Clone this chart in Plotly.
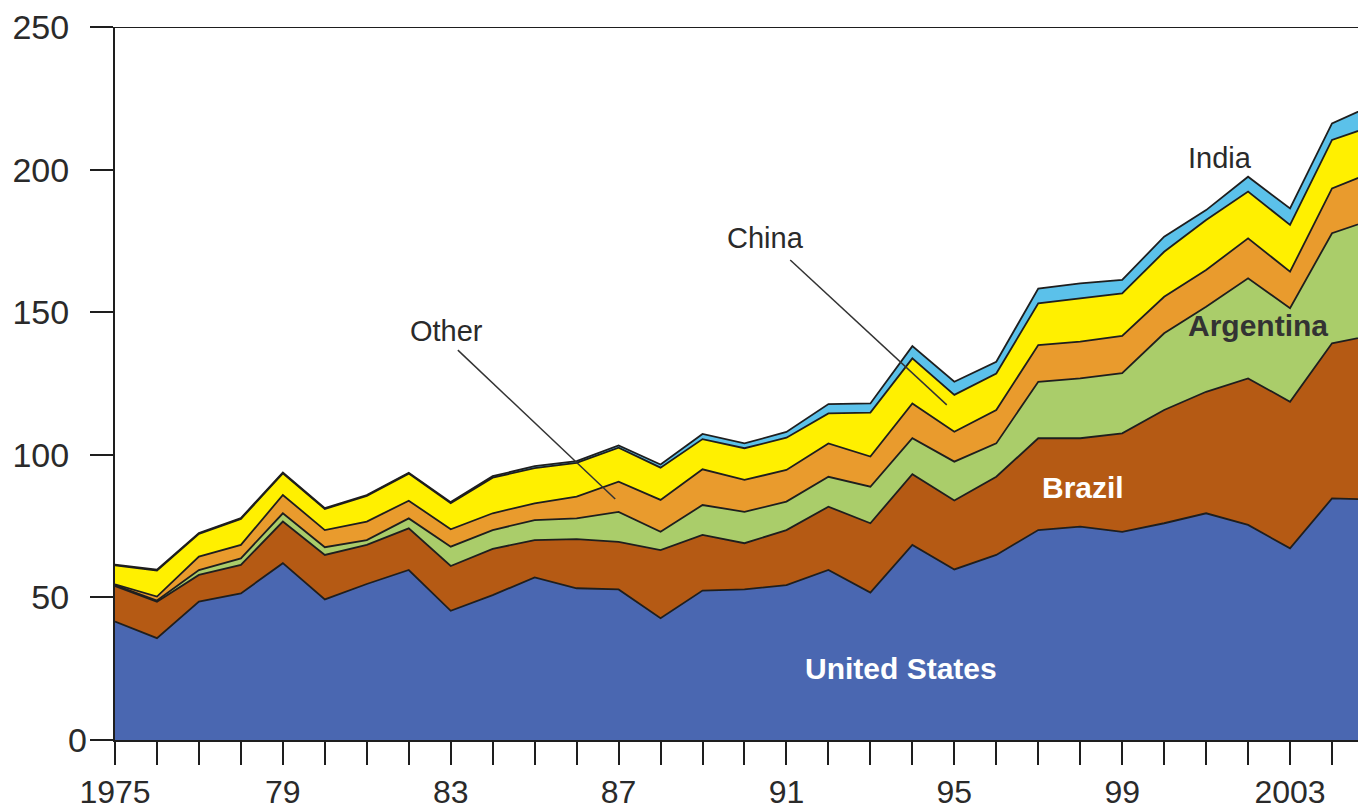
import plotly.graph_objects as go

years = list(range(1975, 2006))

united_states = [41.5, 35.7, 48.5, 51.4, 62.0, 49.3, 54.7, 59.6, 45.3, 50.8,
                 57.0, 53.2, 52.8, 42.7, 52.4, 52.8, 54.3, 59.6, 51.7, 68.4,
                 59.8, 64.9, 73.6, 74.8, 73.0, 76.0, 79.5, 75.4, 67.2, 84.7, 84.3]
brazil = [12.5, 12.8, 9.4, 10.0, 14.6, 15.6, 13.7, 14.6, 15.7, 16.2,
          13.1, 17.2, 16.7, 23.9, 19.5, 16.2, 19.3, 22.2, 24.3, 24.8,
          24.2, 27.4, 32.2, 31.0, 34.5, 39.7, 42.6, 51.4, 51.4, 54.4, 57.7]
argentina = [0.3, 0.4, 1.7, 2.3, 2.9, 2.7, 1.7, 3.5, 6.8, 6.6,
             7.0, 7.3, 10.5, 6.4, 10.5, 11.0, 10.0, 10.5, 12.8, 12.6,
             13.6, 11.7, 19.8, 21.0, 21.1, 26.9, 29.8, 35.1, 32.8, 38.6, 40.7]
other = [0.3, 1.4, 4.7, 4.7, 6.4, 6.0, 6.5, 6.2, 6.1, 5.9,
         5.9, 7.6, 10.6, 11.2, 12.5, 11.2, 11.1, 11.7, 10.6, 12.2,
         10.5, 11.7, 12.9, 12.9, 13.1, 12.8, 12.9, 14.0, 12.8, 15.7, 16.6]
china = [6.6, 9.1, 8.0, 9.1, 7.6, 7.4, 9.0, 9.5, 9.1, 12.5,
         12.3, 11.9, 11.9, 11.3, 10.6, 11.1, 11.3, 10.5, 15.4, 15.8,
         12.9, 12.8, 14.6, 15.2, 14.9, 15.8, 17.5, 16.4, 16.4, 17.0, 16.2]
india = [0.3, 0.3, 0.3, 0.3, 0.3, 0.3, 0.3, 0.3, 0.4, 0.5,
         0.7, 0.6, 0.8, 1.1, 1.8, 1.7, 2.0, 3.3, 3.2, 4.3,
         4.6, 4.1, 5.2, 5.2, 4.7, 5.3, 3.5, 5.2, 5.8, 5.8, 7.3]

series = [
    ("United States", united_states, "#4a67b1"),
    ("Brazil", brazil, "#b55a14"),
    ("Argentina", argentina, "#aacd6a"),
    ("Other", other, "#e99b2d"),
    ("China", china, "#fff000"),
    ("India", india, "#5bc1ea"),
]

tick_years = list(range(1975, 2006))
tick_labels = {1975: "1975", 1979: "79", 1983: "83", 1987: "87",
               1991: "91", 1995: "95", 1999: "99", 2003: "2003"}
y_ticks = [0, 50, 100, 150, 200, 250]

fig = go.Figure()
for name, vals, color in series:
    fig.add_trace(go.Scatter(
        x=years, y=vals, name=name, mode="lines",
        stackgroup="one", fillcolor=color,
        line=dict(color="#1e1e1e", width=1.8),
        hoverinfo="x+y+name",
    ))

# page body has an 8px default margin: compensate in size & margins
fig.update_layout(
    width=1358, height=799,
    margin=dict(l=107, r=0, t=19, b=67),
    paper_bgcolor="white", plot_bgcolor="white",
    showlegend=False,
    font=dict(family="Liberation Sans, Arial, sans-serif", color="#2a2a2a"),
)

fig.update_xaxes(
    range=[1975, 2004.81],
    automargin=False,
    tickvals=tick_years,
    ticktext=[tick_labels.get(y, "") for y in tick_years],
    ticks="outside", ticklen=23, tickwidth=1.5, tickcolor="#1e1e1e",
    showline=True, linecolor="#1e1e1e", linewidth=2,
    showgrid=False, zeroline=False,
    tickfont=dict(size=32, color="#2a2a2a"),
    ticklabelstandoff=0,
    ticklabeloverflow="allow",
)
fig.update_yaxes(
    range=[0, 250],
    automargin=False,
    tickvals=y_ticks,
    ticktext=["" if v == 0 else str(v) for v in y_ticks],
    ticks="outside", ticklen=23, tickwidth=1.5, tickcolor="#1e1e1e",
    showline=True, linecolor="#1e1e1e", linewidth=2,
    showgrid=False, zeroline=False,
    tickfont=dict(size=34, color="#2a2a2a"),
    ticklabelstandoff=14,
    ticklabeloverflow="allow",
)

# the "0" label sits closer to the axis in the original
fig.add_annotation(x=0, xref="paper", y=y_ticks[0], yref="y", text="0",
                   showarrow=False, xanchor="right", xshift=-26,
                   font=dict(size=34, color="#2a2a2a"))

# top border line at 250
fig.add_shape(type="line", xref="paper", yref="y", x0=0, x1=1, y0=250, y1=250,
              line=dict(color="#1e1e1e", width=1.8))

# leader lines
fig.add_shape(type="line", xref="x", yref="y", x0=1983.17, y0=136.7, x1=1986.92, y1=84.5,
              line=dict(color="#333333", width=1.5))
fig.add_shape(type="line", xref="x", yref="y", x0=1991.09, y0=168.3, x1=1994.82, y1=117.5,
              line=dict(color="#333333", width=1.5))

labels = [
    ("United States", 1993.73, 25.2, "white", True),
    ("Brazil", 1998.07, 88.4, "white", True),
    ("Argentina", 2002.24, 145.5, "#333333", True),
    ("India", 2001.33, 204.0, "#2a2a2a", False),
    ("China", 1990.51, 176.0, "#2a2a2a", False),
    ("Other", 1982.91, 143.4, "#2a2a2a", False),
]
for text, x, y, color, bold in labels:
    fig.add_annotation(
        x=x, y=y, xref="x", yref="y", showarrow=False,
        text=f"<b>{text}</b>" if bold else text,
        font=dict(size=30 if bold else 29, color=color,
                  family="Liberation Sans, Arial, sans-serif"),
    )

fig.write_html("out.html")
